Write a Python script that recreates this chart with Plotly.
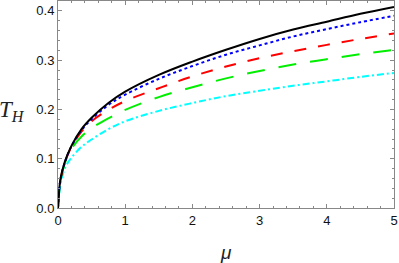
import plotly.graph_objects as go

mu = [0, 0.01, 0.035, 0.1, 0.2, 0.35, 0.5, 0.75, 1, 1.5, 2, 2.5, 3, 3.5, 4, 4.5, 5]
black = [0, 0.022, 0.057, 0.093, 0.126, 0.160, 0.183, 0.213, 0.236, 0.270, 0.297, 0.321, 0.343, 0.362, 0.378, 0.394, 0.408]
blue = [0, 0.022, 0.057, 0.092, 0.125, 0.158, 0.180, 0.209, 0.230, 0.262, 0.288, 0.311, 0.330, 0.348, 0.363, 0.377, 0.390]
red = [0, 0.022, 0.056, 0.091, 0.124, 0.155, 0.176, 0.199, 0.217, 0.243, 0.267, 0.287, 0.304, 0.318, 0.331, 0.343, 0.354]
green = [0, 0.021, 0.054, 0.090, 0.120, 0.145, 0.162, 0.182, 0.199, 0.225, 0.245, 0.263, 0.278, 0.291, 0.302, 0.312, 0.321]
cyan = [0, 0.018, 0.045, 0.080, 0.102, 0.124, 0.139, 0.160, 0.176, 0.197, 0.213, 0.227, 0.238, 0.248, 0.257, 0.266, 0.274]

x_ticks = [0, 1, 2, 3, 4, 5]
y_ticks = [0.0, 0.1, 0.2, 0.3, 0.4]
y_tick_labels = ["0.0", "0.1", "0.2", "0.3", "0.4"]

series = [
    (cyan, "#00ffff", "7px,3px,2px,3px"),
    (green, "#00ee00", "18px,14px"),
    (red, "#ff0000", "12px,12px"),
    (blue, "#0000ff", "3px,3px"),
    (black, "#000000", "solid"),
]

fig = go.Figure()
for ys, col, dash in series:
    fig.add_trace(go.Scatter(x=mu, y=ys, mode="lines",
                             line=dict(color=col, width=2, dash=dash, shape="spline", smoothing=1.0),
                             showlegend=False, hoverinfo="skip", cliponaxis=True))

axis_common = dict(showline=True, linecolor="#888888", linewidth=1, mirror="ticks",
                   ticks="inside", tickcolor="#888888", ticklen=4, tickwidth=1,
                   showgrid=False, zeroline=False,
                   tickfont=dict(family="Liberation Sans, Arial", size=13, color="#111111"))

fig.update_xaxes(range=[0, 5.0], tickvals=x_ticks, ticktext=[str(t) for t in x_ticks],
                 minor=dict(ticks="inside", dtick=0.2, tick0=0, ticklen=2, tickcolor="#888888"),
                 **axis_common)
fig.update_yaxes(range=[0, 0.42], tickvals=y_ticks, ticktext=y_tick_labels,
                 minor=dict(ticks="inside", dtick=0.02, tick0=0, ticklen=2, tickcolor="#888888"),
                 **axis_common)

fig.add_annotation(text="<i>T</i><sub><i>H</i></sub>", xref="paper", yref="paper",
                   x=-0.137, y=0.47, xanchor="center", yanchor="middle", showarrow=False,
                   font=dict(family="Liberation Serif, Times New Roman", size=23, color="#222222"))
fig.add_annotation(text="<i>μ</i>", xref="paper", yref="paper",
                   x=0.50, y=-0.217, xanchor="center", yanchor="middle", showarrow=False,
                   font=dict(family="Liberation Sans, Arial", size=19, color="#222222"))

fig.update_layout(width=399, height=263, margin=dict(l=58, r=5, t=1, b=55),
                  plot_bgcolor="white", paper_bgcolor="white")

fig.write_html("out.html", config={"displayModeBar": False})

with open("out.html", "r", encoding="utf-8") as f:
    html = f.read()
html = html.replace("<head>", "<head><style>html,body{margin:0;padding:0;overflow:hidden;}</style>", 1)
with open("out.html", "w", encoding="utf-8") as f:
    f.write(html)
